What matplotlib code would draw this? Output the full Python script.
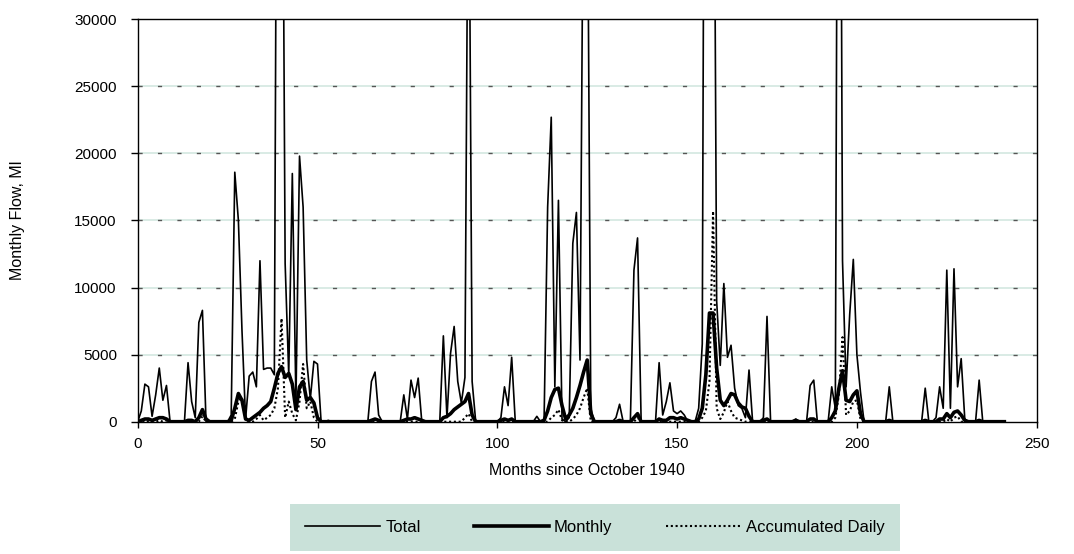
import numpy as np
import matplotlib.pyplot as plt

plt.rcParams['font.family'] = ['Liberation Sans', 'DejaVu Sans']

# months since October 1940 (0 .. 241)
months = np.arange(0, 242)

# Total flow, Ml (values above 30000 run off the top of the chart)
total = [
    0, 800, 2800, 2600, 400, 2000, 4000, 1600, 2700, 0,            # 0-9
    0, 0, 0, 0, 4400, 1500, 300, 7400, 8300, 0,                    # 10-19
    0, 0, 0, 0, 0, 0, 500, 18600, 15000, 6800,                     # 20-29
    200, 3400, 3700, 2600, 12000, 3900, 4000, 4000, 3500, 70000,   # 30-39
    60000, 11800, 3500, 18500, 1500, 19800, 16000, 4600, 1700, 4500,  # 40-49
    4300, 0, 0, 100, 0, 0, 0, 0, 0, 0,                             # 50-59
    0, 0, 0, 0, 0, 3000, 3700, 500, 0, 0,                          # 60-69
    0, 0, 0, 0, 2000, 200, 3100, 1800, 3250, 0,                    # 70-79
    0, 0, 0, 0, 0, 6400, 300, 5100, 7100, 3000,                    # 80-89
    1400, 3300, 48000, 3000, 0, 0, 0, 0, 0, 0,                     # 90-99
    0, 300, 2600, 1200, 4800, 0, 0, 0, 0, 0,                       # 100-109
    0, 400, 0, 0, 16000, 22700, 2600, 16500, 200, 0,               # 110-119
    300, 13300, 15600, 4600, 45000, 45000, 1000, 0, 0, 0,          # 120-129
    0, 0, 0, 300, 1300, 0, 0, 0, 11300, 13700,                     # 130-139
    0, 0, 0, 0, 0, 4400, 500, 1500, 2900, 800,                     # 140-149
    600, 800, 500, 0, 0, 0, 1000, 5800, 86000, 80000,              # 150-159
    60000, 9000, 4200, 10300, 4800, 5700, 2500, 1200, 1000, 300,   # 160-169
    3850, 0, 0, 0, 300, 7850, 0, 0, 0, 0,                          # 170-179
    0, 0, 0, 200, 0, 0, 0, 2700, 3100, 0,                          # 180-189
    0, 0, 0, 2600, 1000, 80000, 12000, 2600, 8000, 12100,          # 190-199
    5000, 2200, 0, 0, 0, 0, 0, 0, 0, 2600,                         # 200-209
    0, 0, 0, 0, 0, 0, 0, 0, 0, 2500,                               # 210-219
    0, 0, 300, 2600, 1000, 11300, 1000, 11400, 2600, 4700,         # 220-229
    200, 0, 0, 0, 3100, 0, 0, 0, 0, 0,                             # 230-239
    0, 0,                                                          # 240-241
]

# Monthly model flow, Ml
monthly = [
    0, 100, 200, 200, 100, 200, 300, 300, 200, 0,
    0, 0, 0, 0, 100, 100, 0, 300, 900, 200,
    0, 0, 0, 0, 0, 0, 100, 1000, 2100, 1600,
    200, 100, 300, 500, 700, 1000, 1200, 1500, 2500, 3600,
    4100, 3300, 3600, 2800, 900, 2600, 3000, 1600, 1800, 1400,
    300, 0, 0, 0, 0, 0, 0, 0, 0, 0,
    0, 0, 0, 0, 0, 100, 200, 100, 0, 0,
    0, 0, 0, 0, 100, 200, 200, 300, 200, 100,
    0, 0, 0, 0, 0, 300, 400, 600, 900, 1100,
    1300, 1500, 2100, 500, 0, 0, 0, 0, 0, 0,
    0, 100, 200, 100, 200, 0, 0, 0, 0, 0,
    0, 0, 0, 100, 800, 1800, 2400, 2500, 1200, 200,
    500, 1000, 1800, 2700, 3700, 4600, 600, 0, 0, 0,
    0, 0, 0, 0, 100, 0, 0, 0, 300, 600,
    0, 0, 0, 0, 0, 200, 100, 100, 300, 300,
    200, 300, 200, 100, 0, 0, 200, 1000, 3500, 8100,
    8100, 4000, 1600, 1200, 1600, 2100, 2000, 1400, 1100, 1000,
    400, 0, 0, 0, 100, 200, 0, 0, 0, 0,
    0, 0, 0, 100, 0, 0, 0, 200, 200, 0,
    0, 0, 0, 300, 800, 2500, 3800, 1600, 1500, 2000,
    2300, 600, 0, 0, 0, 0, 0, 0, 0, 100,
    0, 0, 0, 0, 0, 0, 0, 0, 0, 100,
    0, 0, 0, 200, 200, 600, 300, 700, 800, 500,
    100, 0, 0, 0, 100, 0, 0, 0, 0, 0,
    0, 0,
]

# Accumulated daily model flow, Ml
accum_daily = [
    0, 0, 100, 0, 0, 0, 100, 0, 100, 0,
    0, 0, 0, 0, 0, 0, 0, 0, 400, 0,
    0, 0, 0, 0, 0, 0, 0, 200, 1500, 1800,
    100, 0, 0, 200, 500, 100, 300, 500, 1000, 2500,
    7700, 300, 1500, 600, 100, 1500, 4300, 1000, 1500, 300,
    0, 0, 0, 0, 0, 0, 0, 0, 0, 0,
    0, 0, 0, 0, 0, 0, 0, 0, 0, 0,
    0, 0, 0, 0, 0, 0, 0, 0, 0, 0,
    0, 0, 0, 0, 0, 0, 0, 0, 0, 0,
    0, 300, 600, 0, 0, 0, 0, 0, 0, 0,
    0, 0, 0, 0, 0, 0, 0, 0, 0, 0,
    0, 0, 0, 0, 0, 300, 500, 900, 100, 0,
    0, 200, 500, 1000, 1800, 2500, 0, 0, 0, 0,
    0, 0, 0, 0, 0, 0, 0, 0, 0, 300,
    0, 0, 0, 0, 0, 0, 0, 0, 0, 0,
    0, 0, 0, 0, 0, 0, 0, 300, 800, 3000,
    15700, 1000, 200, 700, 1500, 800, 300, 200, 100, 0,
    0, 0, 0, 0, 0, 0, 0, 0, 0, 0,
    0, 0, 0, 0, 0, 0, 0, 0, 0, 0,
    0, 0, 0, 0, 300, 2000, 6300, 500, 800, 1500,
    1600, 200, 0, 0, 0, 0, 0, 0, 0, 0,
    0, 0, 0, 0, 0, 0, 0, 0, 0, 0,
    0, 0, 0, 0, 0, 200, 0, 300, 400, 0,
    0, 0, 0, 0, 0, 0, 0, 0, 0, 0,
    0, 0,
]

fig = plt.figure(figsize=(10.74, 5.54), dpi=100)
ax = fig.add_axes([137.7 / 1074, 1 - 421.7 / 554, 899 / 1074, 402.4 / 554])

# gridlines: pale teal line with dark dashes on top
yticks = list(range(0, 30001, 5000))
for y in yticks[1:-1]:
    ax.axhline(y, color='#d3e7e0', lw=1.2, zorder=0)
    ax.axhline(y, color='#555555', lw=1.0, dashes=(3, 11), zorder=0.5)

l1, = ax.plot(months, total, color='black', lw=1.2, label='Total', zorder=2)
l2, = ax.plot(months, monthly, color='black', lw=2.6, label='Monthly', zorder=3)
l3, = ax.plot(months, accum_daily, color='black', lw=1.5, linestyle=(0, (1, 1.3)),
              label='Accumulated Daily', zorder=4)

ax.set_xlim(0, 250)
ax.set_ylim(0, 30000)
ax.set_xticks(range(0, 251, 50))
ax.set_yticks(yticks)
ax.tick_params(axis='y', direction='out', length=5, width=1, pad=10, labelsize=11)
ax.tick_params(axis='x', direction='out', length=4, width=1, pad=7, labelsize=11)
for s in ax.spines.values():
    s.set_color('black')
    s.set_linewidth(1.0)

ax.set_xlabel('Months since October 1940', fontsize=11.5)
ax.xaxis.set_label_coords(0.5, -0.103)
ax.set_ylabel('Monthly Flow, Ml', fontsize=11.5)
ax.yaxis.set_label_coords(-0.125, 0.5)

fig.legend(handles=[l1, l2, l3], loc='center',
           bbox_to_anchor=(595 / 1074, 1 - 527.5 / 554), ncol=3,
           frameon=True, facecolor='#c9e1d9', edgecolor='none', fancybox=False,
           framealpha=1, handlelength=4.5, handletextpad=0.3, columnspacing=3.2,
           borderpad=0.95, borderaxespad=0, fontsize=12)

fig.savefig('out.png', dpi=100)
